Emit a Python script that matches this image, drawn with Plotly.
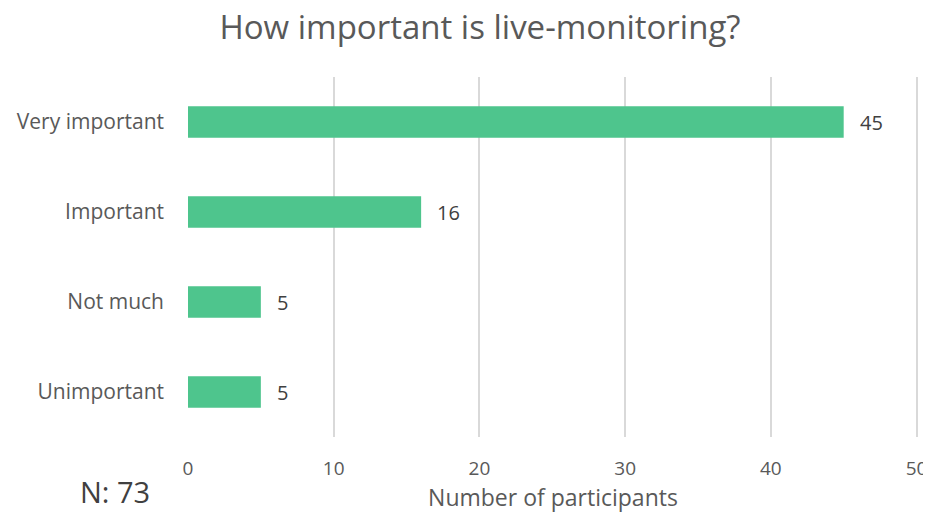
import plotly.graph_objects as go

categories = ["Very important", "Important", "Not much", "Unimportant"]
values = [45, 16, 5, 5]
x_ticks = [0, 10, 20, 30, 40, 50]
note_text = "N: 73"

FONT = "Open Sans"
fig = go.Figure(go.Bar(
    y=categories, x=values, orientation="h",
    marker=dict(color="#4EC58D", line=dict(width=0)),
    cliponaxis=False,
))

annotations = [
    dict(x=v, y=c, xref="x", yref="y", text=str(v), showarrow=False,
         xanchor="left", yanchor="middle", xshift=14,
         font=dict(family=FONT, size=20, color="#404040"))
    for c, v in zip(categories, values)
]
annotations.append(dict(text=note_text, xref="paper", yref="paper",
                        x=-0.100, y=-0.152, xanchor="center", yanchor="middle",
                        showarrow=False,
                        font=dict(family=FONT, size=29, color="#404040")))

# page body has an 8px margin; size the figure so the plot lands where the reference is
fig.update_layout(
    width=923, height=506,
    margin=dict(l=180, r=13, t=69, b=77, autoexpand=False),
    paper_bgcolor="white", plot_bgcolor="white",
    bargap=0.65,
    showlegend=False,
    title=dict(text="How important is live-monitoring?", x=0.5114, xanchor="center",
               y=0.9615, yanchor="middle",
               font=dict(family=FONT, size=33, color="#595959")),
    xaxis=dict(range=[0, 50.1], tickvals=x_ticks, showgrid=True, gridcolor="#D9D9D9",
               gridwidth=1.5, zeroline=False, showline=False,
               tickfont=dict(family=FONT, size=19, color="#595959"),
               ticklabeloverflow="allow",
               ticks="", ticklabelstandoff=18,
               title=dict(text="Number of participants", standoff=4,
                          font=dict(family=FONT, size=23, color="#595959"))),
    yaxis=dict(categoryorder="array", categoryarray=categories[::-1],
               showgrid=False, zeroline=False, showline=False,
               ticks="", ticklabelstandoff=23,
               tickfont=dict(family=FONT, size=21, color="#595959")),
    annotations=annotations,
)

fig.write_html("out.html")
